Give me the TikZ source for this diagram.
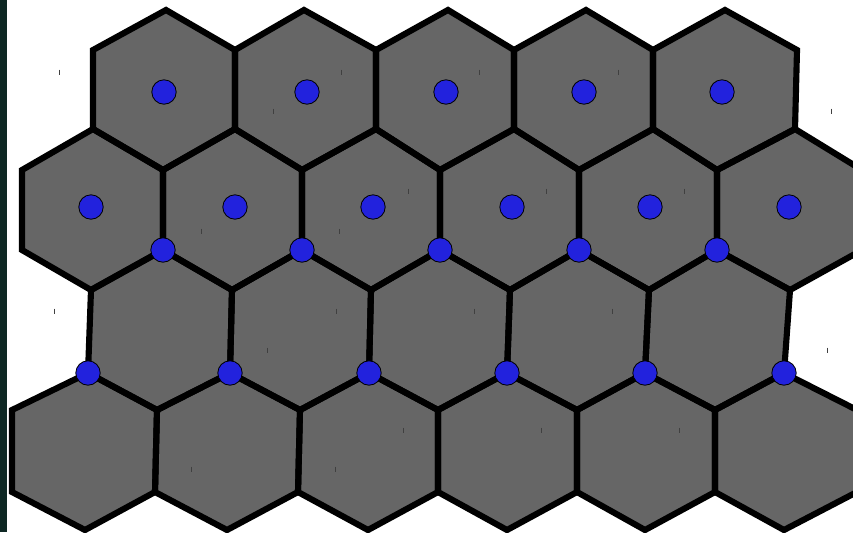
\documentclass[tikz,border=0pt]{standalone}
\definecolor{hexgray}{RGB}{102,102,102}
\definecolor{dotblue}{RGB}{34,34,221}
\definecolor{stripcol}{RGB}{14,40,36}
\begin{document}
\begin{tikzpicture}[x=0.75pt,y=-0.75pt,
  hexfill/.style={fill=hexgray},
  hexline/.style={draw=black,line width=4.6pt,line join=miter},
  dot/.style={circle,fill=dotblue,draw=black,line width=0.6pt,minimum size=18.3pt,inner sep=0pt},
  tickmark/.style={draw=black!75,line width=0.75pt}]
\useasboundingbox (0,0) rectangle (853,532);
\clip (0,0) rectangle (853,532);
\fill[white] (0,0) rectangle (853,532);
\fill[stripcol] (0,0) rectangle (7,532);
% vertex levels
\foreach \n/\x in {1/166,2/304,3/448,4/586,5/725} \coordinate (A\n) at (\x,10);
\foreach \n/\x in {1/93,2/235,3/376,4/514,5/653,6/797} \coordinate (B\n) at (\x,50);
\foreach \n/\x in {1/93,2/235,3/376,4/514,5/653,6/795} \coordinate (C\n) at (\x,129);
\foreach \n/\x in {1/22,2/163,3/302,4/440,5/579,6/717,7/862} \coordinate (D\n) at (\x,170);
\foreach \n/\x in {1/22,2/163,3/302,4/440,5/579,6/717,7/862} \coordinate (E\n) at (\x,250);
\foreach \n/\x in {1/91,2/232,3/371,4/510,5/649,6/790} \coordinate (F\n) at (\x,290);
\foreach \n/\x in {1/88,2/230,3/369,4/507,5/645,6/784} \coordinate (G\n) at (\x,373);
\foreach \n/\x in {1/12,2/157,3/300,4/438,5/577,6/715,7/857} \coordinate (H\n) at (\x,410);
\foreach \n/\x in {1/12,2/155,3/298,4/438,5/577,6/715,7/857} \coordinate (I\n) at (\x,492);
\foreach \n/\x in {1/85,2/227,3/368,4/507,5/645,6/784} \coordinate (J\n) at (\x,530);
% fills
\foreach \i in {1,...,5}{\pgfmathtruncatemacro\j{\i+1}
  \path[hexfill] (A\i)--(B\j)--(C\j)--(D\j)--(C\i)--(B\i)--cycle;}
\foreach \i in {1,...,6}{\pgfmathtruncatemacro\j{\i+1}
  \path[hexfill] (C\i)--(D\j)--(E\j)--(F\i)--(E\i)--(D\i)--cycle;}
\foreach \i in {1,...,5}{\pgfmathtruncatemacro\j{\i+1}
  \path[hexfill] (E\j)--(F\j)--(G\j)--(H\j)--(G\i)--(F\i)--cycle;}
\foreach \i in {1,...,6}{\pgfmathtruncatemacro\j{\i+1}
  \path[hexfill] (G\i)--(H\j)--(I\j)--(J\i)--(I\i)--(H\i)--cycle;}
% outlines
\foreach \i in {1,...,5}{\pgfmathtruncatemacro\j{\i+1}
  \path[hexline] (A\i)--(B\j)--(C\j)--(D\j)--(C\i)--(B\i)--cycle;}
\foreach \i in {1,...,6}{\pgfmathtruncatemacro\j{\i+1}
  \path[hexline] (C\i)--(D\j)--(E\j)--(F\i)--(E\i)--(D\i)--cycle;}
\foreach \i in {1,...,5}{\pgfmathtruncatemacro\j{\i+1}
  \path[hexline] (E\j)--(F\j)--(G\j)--(H\j)--(G\i)--(F\i)--cycle;}
\foreach \i in {1,...,6}{\pgfmathtruncatemacro\j{\i+1}
  \path[hexline] (G\i)--(H\j)--(I\j)--(J\i)--(I\i)--(H\i)--cycle;}
% tiny tick marks
\foreach \x/\y in {59/72,341/72,479/72,618/72,273/111,831/111,408/191,546/191,684/191,
  201/231,339/231,54/311,336/311,474/311,612/311,267/350,827/350,403/430,541/430,679/430,
  191/469,335/469}
  \path[tickmark] (\x,\y-2.5) -- (\x,\y+2.5);
% blue dots
\foreach \n/\x in {1/164,2/307,3/446,4/584,5/722} \node[dot] (ra\n) at (\x,92) {};
\foreach \n/\x in {1/91,2/235,3/373,4/512,5/650,6/789} \node[dot] (rb\n) at (\x,207) {};
\foreach \n in {2,...,6} \node[dot] (ve\n) at (E\n) {};
\foreach \n in {1,...,6} \node[dot] (vg\n) at (G\n) {};
\end{tikzpicture}
\end{document}
